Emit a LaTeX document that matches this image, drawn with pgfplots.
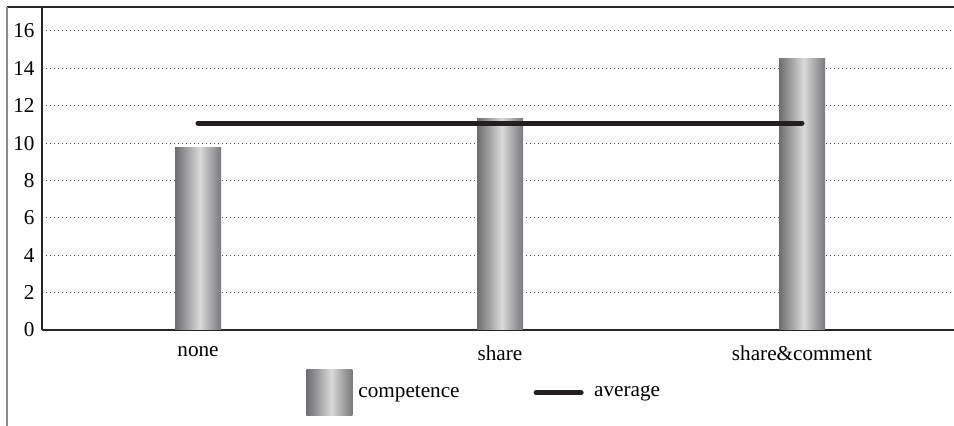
\documentclass[border=0pt]{standalone}
\usepackage{fontspec}
\setmainfont{Liberation Serif}
\usepackage{pgfplots}
\pgfplotsset{compat=1.18}

% cylinder-like grey shading of the bars
\definecolor{cA}{HTML}{6E6E70}
\definecolor{cB}{HTML}{9C9C9E}
\definecolor{cC}{HTML}{DADADA}
\definecolor{cD}{HTML}{A6A6A8}
\definecolor{cE}{HTML}{7A7A7E}
\definecolor{avgline}{HTML}{231F20}
\pgfdeclarehorizontalshading{cyl}{100bp}{color(0bp)=(cA); color(25bp)=(cA); color(37bp)=(cB); color(52bp)=(cC); color(64bp)=(cD); color(75bp)=(cE); color(100bp)=(cE)}

\pgfplotsset{
    cylbar/.style={ybar, bar width=23pt, bar shift=0pt, draw=none, shading=cyl},
}

\begin{document}
\begin{tikzpicture}[font=\fontsize{10.6pt}{12.7pt}\selectfont]
\useasboundingbox (0,0) rectangle (477pt,213pt);
\draw[black!85, line width=0.6pt] (3.5pt,209.5pt) -- (477pt,209.5pt);
\draw[black!45, line width=1pt] (3.5pt,209.5pt) -- (3.5pt,0pt);
\begin{axis}[
    at={(21pt,48pt)}, anchor=south west,
    scale only axis,
    width=456pt, height=161.5pt,
    xmin=-0.5166, xmax=2.5033,
    ymin=0, ymax=17.28,
    xtick={0,1,2},
    xticklabels={none,share,share\&comment},
    ytick={0,2,...,16},
    major tick length=0pt,
    axis x line*=bottom, axis y line*=left,
    axis line style={-, black!85, line width=0.6pt},
    ymajorgrids=true,
    grid style={black!70, line width=0.5pt, dash pattern=on 0.5pt off 1.5pt},
    /pgf/number format/assume math mode=true,
    yticklabel style={xshift=-0.2pt},
    xticklabel style={yshift=-4.5pt},
    legend columns=2,
    legend style={at={(0.486,-0.195)}, anchor=center, draw=none, fill=none,
        /tikz/every even column/.append style={column sep=35pt}},
    clip=false,
]
% one plot per bar, so that each bar gets its own shading
\addplot[cylbar,
    legend image code/.code={\shade[shading=cyl] (0pt,-11.5pt) rectangle (23pt,11.5pt);}]
    coordinates {(0,9.74)};
\addlegendentry{\hspace{1pt}competence}
\addplot[cylbar, forget plot] coordinates {(1,11.33)};
\addplot[cylbar, forget plot] coordinates {(2,14.55)};
\addplot[sharp plot, avgline, line width=2.5pt, line cap=round, mark=none,
    legend image code/.code={\draw[avgline, line width=2.5pt, line cap=round] (1.25pt,0pt) -- (23.75pt,0pt); \path (27pt,0pt);}]
    coordinates {(0,11.07) (1,11.07) (2,11.07)};
\addlegendentry{average}
\end{axis}
\end{tikzpicture}
\end{document}
